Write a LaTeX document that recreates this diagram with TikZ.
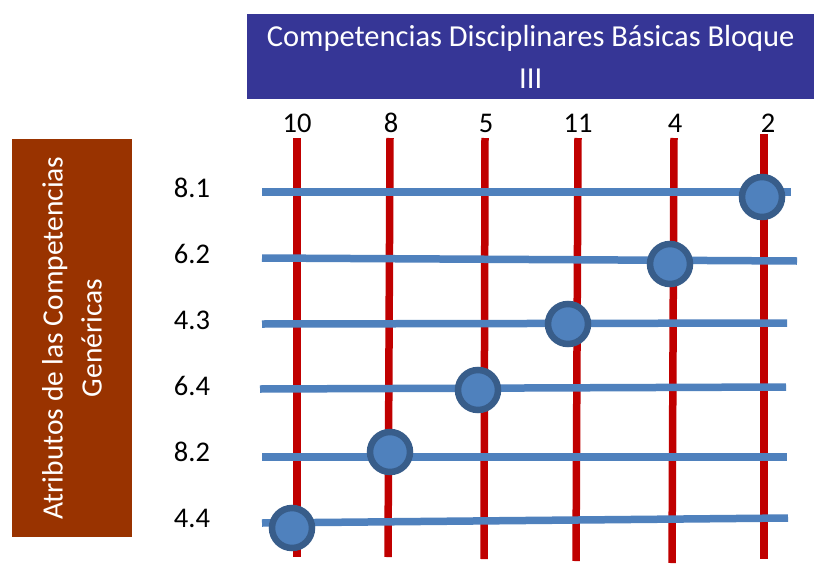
\documentclass[tikz,border=0pt]{standalone}
\usepackage{fontspec}
\setmainfont{Carlito}
\definecolor{titleblue}{RGB}{54,54,150}
\definecolor{brownbox}{RGB}{153,51,0}
\definecolor{redline}{RGB}{192,0,0}
\definecolor{blueline}{RGB}{79,129,189}
\definecolor{circborder}{RGB}{56,93,138}
\begin{document}
\begin{tikzpicture}[x=1pt,y=-1pt,
  lbl/.style={font=\fontsize{28.5}{34}\selectfont, inner sep=0pt},
  redbar/.style={draw=redline, line width=7.5pt},
  bluebar/.style={draw=blueline, line width=7.5pt},
  dot/.style={circle, fill=blueline, draw=circborder, line width=6.5pt, minimum size=40pt, inner sep=0pt}]
\useasboundingbox (0,0) rectangle (814,573);
\fill[white] (0,0) rectangle (814,573);
% title
\node[fill=titleblue, text=white, minimum width=567pt, minimum height=85pt, anchor=north west,
      inner sep=0pt, align=center, font=\fontsize{30.5}{42}\selectfont] (title) at (247,14)
      {Competencias Disciplinares Básicas Bloque\\III};
% side box
\node[fill=brownbox, text=white, rotate=90, minimum width=398pt, minimum height=120pt,
      inner sep=0pt, align=center, font=\fontsize{29.5}{39}\selectfont] (attr) at (72,338)
      {Atributos de las Competencias\\Genéricas};
% column labels
\node[lbl] (c10) at (297,123) {10};
\node[lbl] (c8)  at (391,123) {8};
\node[lbl] (c5)  at (486,123) {5};
\node[lbl] (c11) at (578,123) {11};
\node[lbl] (c4)  at (675,123) {4};
\node[lbl] (c2)  at (768,123) {2};
% row labels
\node[lbl] (r81) at (192,188) {8.1};
\node[lbl] (r62) at (192,254) {6.2};
\node[lbl] (r43) at (192,320) {4.3};
\node[lbl] (r64) at (192,386) {6.4};
\node[lbl] (r82) at (192,452) {8.2};
\node[lbl] (r44) at (192,518) {4.4};
% red bar endpoints
\coordinate (t10) at (297,138); \coordinate (b10) at (297,557);
\coordinate (t8)  at (390,138); \coordinate (b8)  at (388,557);
\coordinate (t5)  at (485,138); \coordinate (b5)  at (484,559);
\coordinate (t11) at (578,138); \coordinate (b11) at (576,561);
\coordinate (t4)  at (674,138); \coordinate (b4)  at (672,563);
\coordinate (t2)  at (764,134); \coordinate (b2)  at (764,559);
\foreach \k in {10,8,5,11,4,2} \draw[redbar] (t\k) -- (b\k);
% blue bar endpoints
\coordinate (l81) at (262,192); \coordinate (e81) at (791,192);
\coordinate (l62) at (262,258); \coordinate (e62) at (797,261);
\coordinate (l43) at (262,324); \coordinate (e43) at (787,323);
\coordinate (l64) at (260,389); \coordinate (e64) at (786,387);
\coordinate (l82) at (262,457); \coordinate (e82) at (787,457);
\coordinate (l44) at (262,523); \coordinate (e44) at (788,518);
\foreach \k in {81,62,43,64,82,44} \draw[bluebar] (l\k) -- (e\k);
% dots
\node[dot] (d1) at (762,197) {};
\node[dot] (d2) at (670,264) {};
\node[dot] (d3) at (568,324) {};
\node[dot] (d4) at (478,390) {};
\node[dot] (d5) at (390,452) {};
\node[dot] (d6) at (292,528) {};
\end{tikzpicture}
\end{document}
